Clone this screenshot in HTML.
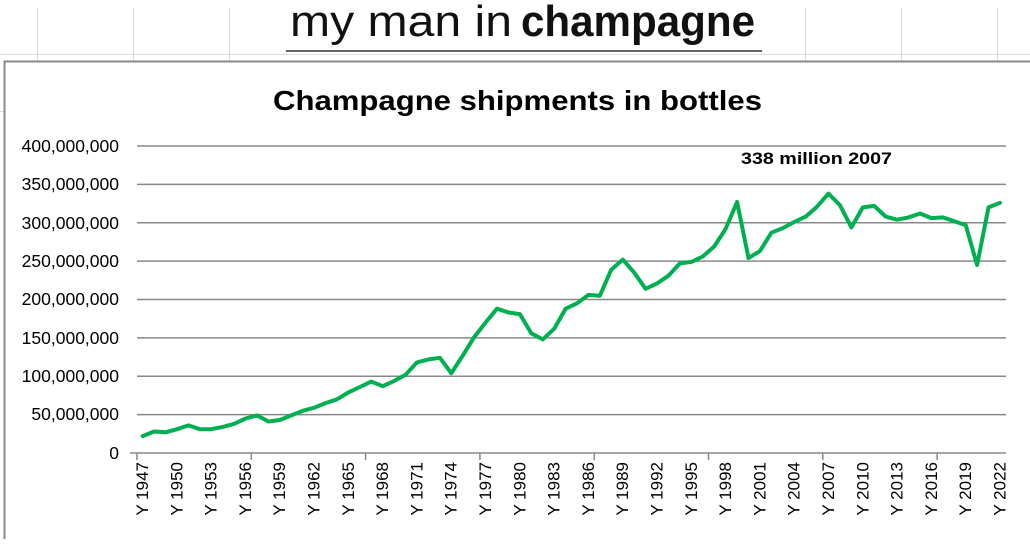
<!DOCTYPE html>
<html><head><meta charset="utf-8"><style>
body{margin:0;width:1030px;height:539px;overflow:hidden;background:#fff;font-family:"Liberation Sans",sans-serif}
</style></head><body>
<svg width="1030" height="539" xmlns="http://www.w3.org/2000/svg" font-family="Liberation Sans, sans-serif">
<g stroke="#d9d9d9" stroke-width="1">
<line x1="0" y1="54.5" x2="1030" y2="54.5"/><line x1="0" y1="111.5" x2="1030" y2="111.5"/>
<line x1="37.5" y1="0" x2="37.5" y2="120"/><line x1="133.5" y1="0" x2="133.5" y2="120"/><line x1="229.5" y1="0" x2="229.5" y2="120"/><line x1="805.5" y1="0" x2="805.5" y2="120"/><line x1="901.5" y1="0" x2="901.5" y2="120"/><line x1="997.5" y1="0" x2="997.5" y2="120"/>
</g>
<rect x="0" y="0" width="1030" height="8" fill="#fff"/>
<rect x="286" y="0" width="476" height="50" fill="#fff"/>
<text x="290" y="36" font-size="44" fill="#111" textLength="222" lengthAdjust="spacingAndGlyphs">my man in</text>
<text x="521" y="36" font-size="44" font-weight="bold" fill="#111" textLength="234" lengthAdjust="spacingAndGlyphs">champagne</text>
<line x1="286" y1="51" x2="762" y2="51" stroke="#333" stroke-width="1.5"/>
<rect x="4.5" y="61.5" width="1030" height="490" fill="#fff" stroke="#888" stroke-width="2"/>
<text x="273" y="110" font-size="28" font-weight="bold" fill="#000" textLength="489" lengthAdjust="spacingAndGlyphs">Champagne shipments in bottles</text>
<g stroke="#888" stroke-width="1.5">
<line x1="137" y1="146" x2="1006" y2="146"/><line x1="137" y1="184.4" x2="1006" y2="184.4"/><line x1="137" y1="222.8" x2="1006" y2="222.8"/><line x1="137" y1="261.1" x2="1006" y2="261.1"/><line x1="137" y1="299.5" x2="1006" y2="299.5"/><line x1="137" y1="337.9" x2="1006" y2="337.9"/><line x1="137" y1="376.3" x2="1006" y2="376.3"/><line x1="137" y1="414.6" x2="1006" y2="414.6"/><line x1="130" y1="453" x2="1006" y2="453"/>
<line x1="137" y1="453" x2="137" y2="460"/><line x1="251.3" y1="453" x2="251.3" y2="460"/><line x1="365.6" y1="453" x2="365.6" y2="460"/><line x1="479.9" y1="453" x2="479.9" y2="460"/><line x1="594.2" y1="453" x2="594.2" y2="460"/><line x1="708.5" y1="453" x2="708.5" y2="460"/><line x1="822.8" y1="453" x2="822.8" y2="460"/><line x1="937.1" y1="453" x2="937.1" y2="460"/>
</g>
<g font-size="17.5" text-anchor="end" fill="#000">
<text x="119" y="152">400,000,000</text><text x="119" y="190">350,000,000</text><text x="119" y="229">300,000,000</text><text x="119" y="267">250,000,000</text><text x="119" y="305">200,000,000</text><text x="119" y="344">150,000,000</text><text x="119" y="382">100,000,000</text><text x="119" y="420">50,000,000</text><text x="119" y="459">0</text>
</g>
<g font-size="17" text-anchor="end" fill="#000">
<text transform="translate(148,462) rotate(-90)">Y 1947</text>
<text transform="translate(182.3,462) rotate(-90)">Y 1950</text>
<text transform="translate(216.6,462) rotate(-90)">Y 1953</text>
<text transform="translate(250.9,462) rotate(-90)">Y 1956</text>
<text transform="translate(285.2,462) rotate(-90)">Y 1959</text>
<text transform="translate(319.5,462) rotate(-90)">Y 1962</text>
<text transform="translate(353.8,462) rotate(-90)">Y 1965</text>
<text transform="translate(388.1,462) rotate(-90)">Y 1968</text>
<text transform="translate(422.4,462) rotate(-90)">Y 1971</text>
<text transform="translate(456.7,462) rotate(-90)">Y 1974</text>
<text transform="translate(491,462) rotate(-90)">Y 1977</text>
<text transform="translate(525.3,462) rotate(-90)">Y 1980</text>
<text transform="translate(559.6,462) rotate(-90)">Y 1983</text>
<text transform="translate(593.9,462) rotate(-90)">Y 1986</text>
<text transform="translate(628.2,462) rotate(-90)">Y 1989</text>
<text transform="translate(662.5,462) rotate(-90)">Y 1992</text>
<text transform="translate(696.8,462) rotate(-90)">Y 1995</text>
<text transform="translate(731.1,462) rotate(-90)">Y 1998</text>
<text transform="translate(765.4,462) rotate(-90)">Y 2001</text>
<text transform="translate(799.7,462) rotate(-90)">Y 2004</text>
<text transform="translate(834,462) rotate(-90)">Y 2007</text>
<text transform="translate(868.3,462) rotate(-90)">Y 2010</text>
<text transform="translate(902.6,462) rotate(-90)">Y 2013</text>
<text transform="translate(936.9,462) rotate(-90)">Y 2016</text>
<text transform="translate(971.2,462) rotate(-90)">Y 2019</text>
<text transform="translate(1005.5,462) rotate(-90)">Y 2022</text>
</g>
<text x="741" y="164" font-size="17" font-weight="bold" fill="#000" textLength="151" lengthAdjust="spacingAndGlyphs">338 million 2007</text>
<polyline id="ln" fill="none" stroke="#00b050" stroke-width="4" stroke-linejoin="round" stroke-linecap="round" points=""/>
</svg>
<script>
var d=[22,28,27,31,36,31,31,34,38,45,49,41,43,49,55,59,65,70,79,86,93,87,94,102,118,122,124,104,127,151,170,188,183,181,156,148,162,188,195,206,205,239,252,235,214,221,231,247,249,256,269,292,327,254,263,287,293,301,308,321,338,323,294,320,322,308,304,307,312,306,307,302,297,245,320,326];
var p=d.map(function(v,i){return (137+11.43*(i+0.5)).toFixed(1)+","+(453-v*0.7675).toFixed(1)}).join(" ");
document.getElementById("ln").setAttribute("points",p);
</script>
</body></html>
